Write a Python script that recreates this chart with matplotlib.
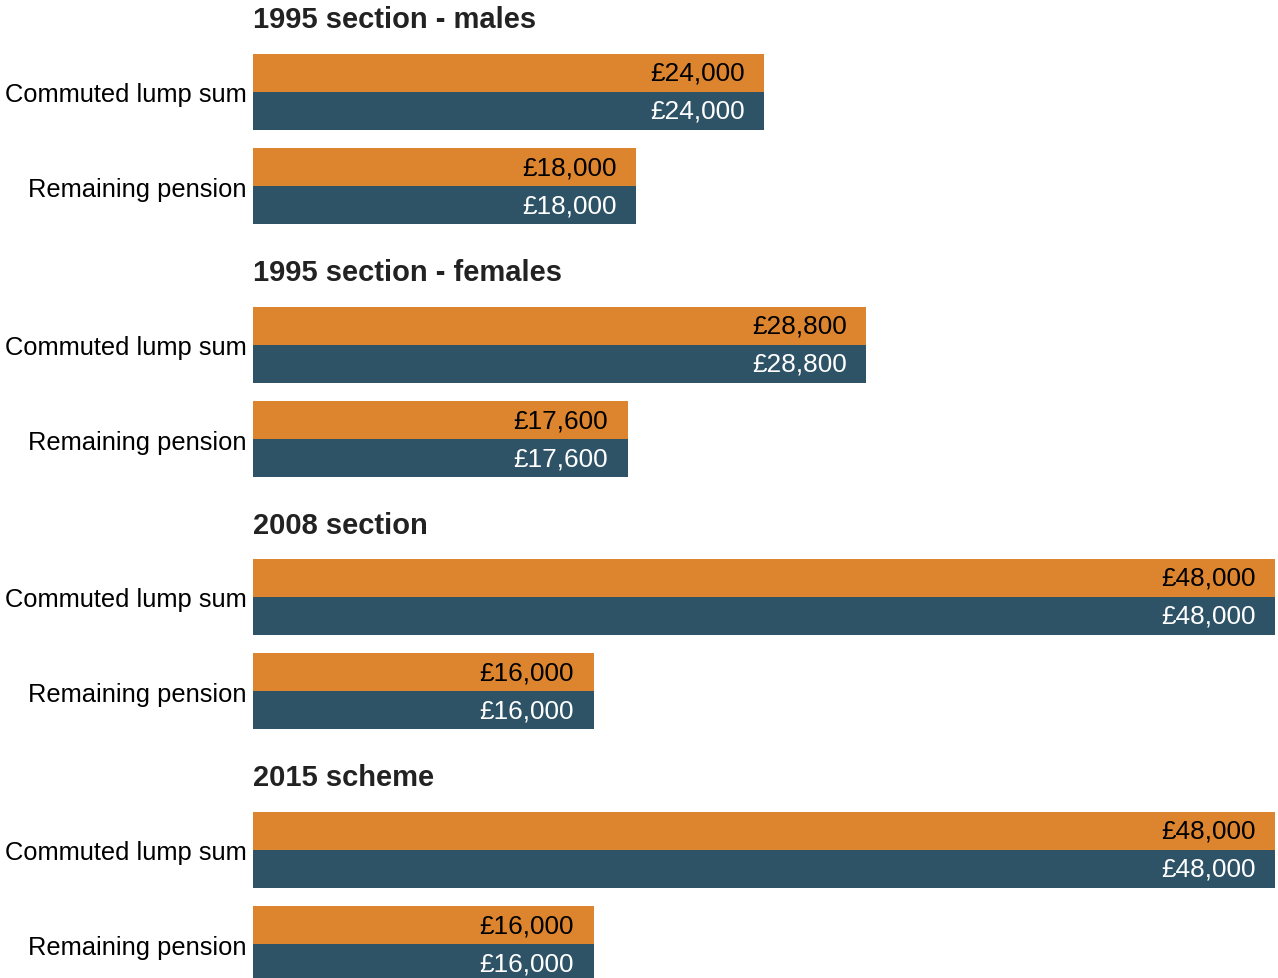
import matplotlib.pyplot as plt

plt.rcParams["font.family"] = ["Liberation Sans", "DejaVu Sans"]

panel_titles = [
    "1995 section - males",
    "1995 section - females",
    "2008 section",
    "2015 scheme",
]
categories = ["Commuted lump sum", "Remaining pension"]
# first series (orange) and second series (dark blue), per panel
series_a = [[24000, 18000], [28800, 17600], [48000, 16000], [48000, 16000]]
series_b = [[24000, 18000], [28800, 17600], [48000, 16000], [48000, 16000]]

ORANGE = "#DD852E"
NAVY = "#2E5367"

W, H = 1278, 979
fig = plt.figure(figsize=(W / 100, H / 100), dpi=100)

left_px, right_px = 253, 1275
panel_top = [55, 308, 560, 813]
title_y = [20, 273, 526, 778]
panel_h = 170
half = 0.404

for i, title in enumerate(panel_titles):
    top = panel_top[i]
    ax = fig.add_axes([left_px / W, 1 - (top + panel_h) / H,
                       (right_px - left_px) / W, panel_h / H])
    ys = list(range(len(categories)))
    ax.barh([y - half / 2 for y in ys], series_a[i], height=half, color=ORANGE)
    ax.barh([y + half / 2 for y in ys], series_b[i], height=half, color=NAVY)
    for y, va, vb in zip(ys, series_a[i], series_b[i]):
        ax.annotate(f"£{va:,.0f}", (va, y - half / 2), xytext=(-14, 0),
                    textcoords="offset points", ha="right", va="center",
                    fontsize=18.9, color="black")
        ax.annotate(f"£{vb:,.0f}", (vb, y + half / 2), xytext=(-14, 0),
                    textcoords="offset points", ha="right", va="center",
                    fontsize=18.9, color="white")
    ax.set_xlim(0, 48000)
    ax.set_ylim(len(categories) - 1 + half, -half)
    ax.set_yticks(ys)
    ax.set_yticklabels(categories, fontsize=18.4)
    ax.tick_params(axis="y", length=0, pad=4.5)
    ax.set_xticks([])
    for s in ax.spines.values():
        s.set_visible(False)
    fig.text(left_px / W, 1 - title_y[i] / H, title, fontsize=21,
             fontweight="bold", color="#222222", ha="left", va="center")

fig.savefig("out.png", dpi=100)
